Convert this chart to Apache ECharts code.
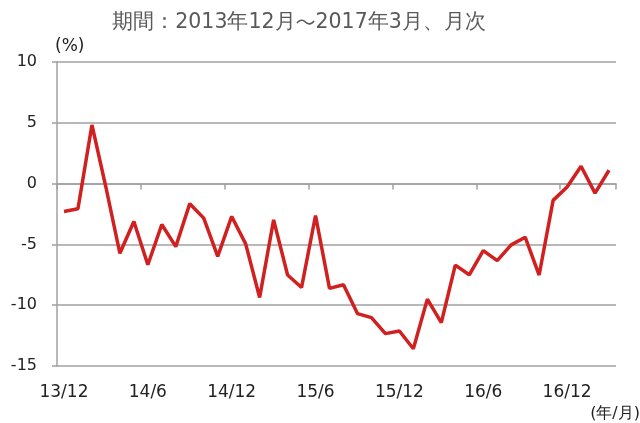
<!DOCTYPE html>
<html><head><meta charset="utf-8">
<script src="https://cdn.jsdelivr.net/npm/echarts@6/dist/echarts.min.js"></script>
<style>html,body{margin:0;padding:0;background:#fff}#c{width:640px;height:423px}</style>
</head><body><div id="c"></div>
<script>
const titleStart = '期間：2013年12月';
const titleWave = '～';
const titleEnd = '2017年3月、月次';
const unitY = '(%)';
const unitX = '(年/月)';
const yMin = -15, yMax = 10, yStep = 5;
const categories = [
 '13/12','14/1','14/2','14/3','14/4','14/5','14/6','14/7','14/8','14/9','14/10','14/11',
 '14/12','15/1','15/2','15/3','15/4','15/5','15/6','15/7','15/8','15/9','15/10','15/11',
 '15/12','16/1','16/2','16/3','16/4','16/5','16/6','16/7','16/8','16/9','16/10','16/11',
 '16/12','17/1','17/2','17/3'
];
const values = [
 -2.29,-2.07,4.82,-0.3,-5.73,-3.12,-6.67,-3.36,-5.18,-1.65,-2.84,-5.98,
 -2.7,-4.96,-9.37,-2.98,-7.52,-8.54,-2.62,-8.62,-8.32,-10.69,-11.02,-12.34,
 -12.12,-13.58,-9.5,-11.43,-6.7,-7.5,-5.51,-6.34,-5.04,-4.41,-7.52,-1.38,
 -0.28,1.43,-0.78,1.1
];
const numFont = 'DejaVu Sans';
const jpFont = 'Noto Sans CJK JP';
const chart = echarts.init(document.getElementById('c'));
chart.setOption({
  animation: false,
  title: {text: '{a|' + titleStart + '}{b|' + titleWave + '}{a|' + titleEnd + '}',
    left: 294, textAlign: 'center', top: 7,
    textStyle: {fontFamily: numFont, fontSize: 20.5, fontWeight: 'normal', color: '#595959',
      rich: {
        a: {fontFamily: numFont, fontSize: 20.5, color: '#595959'},
        b: {fontFamily: jpFont, fontSize: 20, color: '#595959'}
      }}},
  grid: {left: 57, right: 24, top: 62, bottom: 57, containLabel: false},
  xAxis: [{
    type: 'category', data: categories, boundaryGap: true,
    axisLine: {onZero: true, lineStyle: {color: '#a0a0a0', width: 1.5}},
    axisTick: {show: true, interval: 5, length: 6, lineStyle: {color: '#a0a0a0', width: 1.5}},
    axisLabel: {show: false}
  }, {
    type: 'category', data: categories, boundaryGap: true, position: 'bottom',
    axisLine: {show: false}, axisTick: {show: false},
    axisLabel: {interval: 5, margin: 18, fontFamily: numFont, fontSize: 17, color: '#222'}
  }],
  yAxis: {
    type: 'value', min: yMin, max: yMax, interval: yStep,
    name: unitY, nameLocation: 'end', nameGap: 7,
    nameTextStyle: {align: 'left', fontFamily: numFont, fontSize: 17, color: '#222', padding: [0,0,0,-2]},
    axisLine: {show: true, lineStyle: {color: '#a0a0a0', width: 1.5}},
    axisTick: {show: true, length: 5, lineStyle: {color: '#a0a0a0', width: 1.5}},
    axisLabel: {margin: 20, fontFamily: numFont, fontSize: 16, color: '#222'},
    splitLine: {show: true, lineStyle: {color: '#a0a0a0', width: 1.5}}
  },
  graphic: [{type: 'text', right: 0, top: 406,
    style: {text: unitX, fontFamily: numFont, fontSize: 16, fill: '#222'}}],
  series: [{
    type: 'line', data: values, xAxisIndex: 0, symbol: 'none',
    lineStyle: {color: '#d0201f', width: 3.5}
  }]
});
</script></body></html>
